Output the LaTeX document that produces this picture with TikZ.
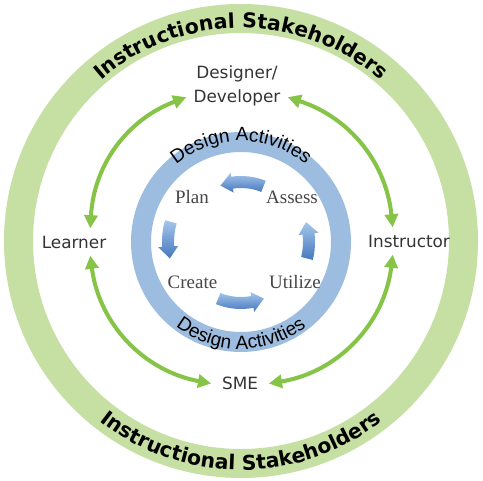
\documentclass[tikz,border=0pt]{standalone}
\usepackage{fontspec}
\setmainfont{Liberation Serif}
\newfontfamily\labfont{DejaVu Sans}
\newfontfamily\arialfont{Liberation Sans}
\usetikzlibrary{decorations.text,arrows.meta}
\definecolor{ringgreen}{RGB}{198,224,163}
\definecolor{arrgreen}{RGB}{134,196,72}
\definecolor{ringblue}{RGB}{157,189,224}
\definecolor{blkdark}{RGB}{70,120,190}
\definecolor{blklight}{RGB}{165,198,235}
\definecolor{labgray}{RGB}{52,52,52}
\definecolor{stepgray}{RGB}{70,70,70}
\newcommand{\blkarrow}[3]{%
  \pgfmathsetmacro{\hbang}{#3-sign(#3-#2)*(12/#1)*180/pi}
  \shade[top color=blklight, bottom color=blkdark, shift={(b)}]
    (#2:{#1+6}) arc[start angle=#2, end angle=\hbang, radius={#1+6}]
    -- (\hbang:{#1+10}) -- (#3:#1) -- (\hbang:{#1-10}) -- (\hbang:{#1-6})
    arc[start angle=\hbang, end angle=#2, radius={#1-6}] -- cycle;}
\begin{document}
\begin{tikzpicture}[x=0.02cm,y=0.02cm,
  lab/.style={font=\labfont\fontsize{9.6}{13.6}\selectfont, text=labgray, inner sep=1pt},
  steplab/.style={font=\fontsize{10.8}{12}\selectfont, text=stepgray, inner sep=1pt},
  garrow/.style={draw=arrgreen, line width=2.3pt,
    {Triangle[length=7.5pt,width=7.5pt]}-{Triangle[length=7.5pt,width=7.5pt]}}]
\useasboundingbox (0,0) rectangle (483,480);
\fill[white] (0,0) rectangle (483,480);
\coordinate (c) at (241,239);
\coordinate (b) at (241,238);
% rings
\fill[ringgreen, even odd rule] (c) circle[radius=237] (c) circle[radius=208];
\fill[ringblue, even odd rule] (b) circle[radius=110] (b) circle[radius=90];
% outer ring texts
\path[decorate, decoration={text along path, text align=center,
  text={|\labfont\bfseries\fontsize{11.6}{14}\selectfont|Instructional Stakeholders}}]
  (c) ++(150:213) arc[start angle=150, end angle=30, radius=213];
\path[decorate, decoration={text along path, text align=center,
  text={|\labfont\bfseries\fontsize{11.6}{14}\selectfont|Instructional Stakeholders}}]
  (c) ++(210:229) arc[start angle=210, end angle=330, radius=229];
% blue ring texts
\path[decorate, decoration={text along path, text align=center,
  text={|\arialfont\fontsize{10.9}{12}\selectfont|Design Activities}}]
  (b) ++(160:101) arc[start angle=160, end angle=20, radius=101];
\path[decorate, decoration={text along path, text align=center,
  text={|\arialfont\fontsize{10.9}{12}\selectfont|Design Activities}}]
  (b) ++(200:107) arc[start angle=200, end angle=340, radius=107];
% stakeholder nodes
\node[lab, align=center, inner xsep=4pt] (designer) at (237,394.5) {Designer/\\Developer};
\node[lab, inner ysep=4pt] (learner) at (74,238) {Learner};
\node[lab, inner ysep=4pt] (instructor) at (409,239) {Instructor};
\node[lab, inner xsep=6pt] (sme) at (240,96.5) {SME};
% green arrows
\draw[garrow] (learner.40) to[bend left=33] (designer.193);
\draw[garrow] (designer.347) to[bend left=33] (instructor.140);
\draw[garrow] (instructor.220) to[bend left=37] (sme.east);
\draw[garrow] (sme.west) to[bend left=36] (learner.-40);
% design steps
\node[steplab] (plan) at (192,282.5) {Plan};
\node[steplab] (assess) at (292,282.5) {Assess};
\node[steplab] (create) at (192.5,197.5) {Create};
\node[steplab] (utilize) at (295,197.5) {Utilize};
% block arrows
\blkarrow{60}{68}{110}
\blkarrow{73}{164}{193}
\blkarrow{61}{248}{292}
\blkarrow{68}{-14}{17}
\end{tikzpicture}
\end{document}
